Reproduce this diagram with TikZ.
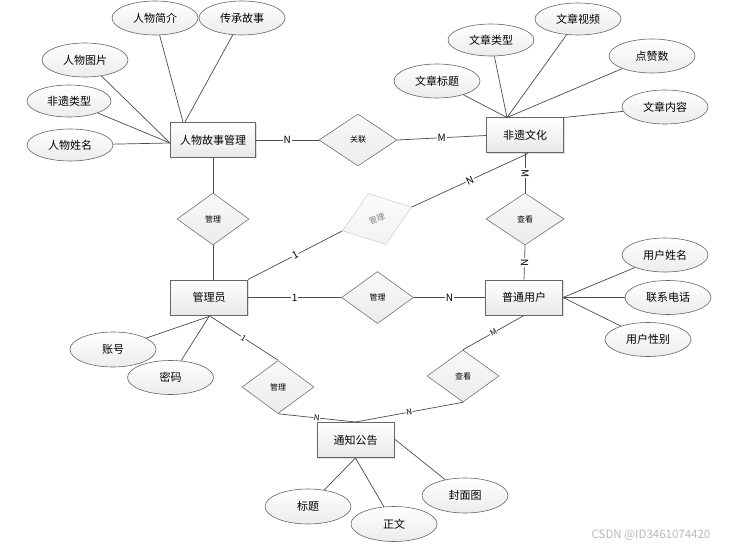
\documentclass[tikz,border=0pt]{standalone}
\usepackage{fontspec}
\setmainfont{Noto Sans CJK SC}
\usetikzlibrary{shapes.geometric,shadows}

\begin{document}
\begin{tikzpicture}[x=1pt,y=-1pt]
    \tikzstyle{every node}=[font={\fontsize{11}{13}\selectfont}]
    \tikzstyle{entity}=[draw=black!60, line width=1pt, rectangle, top color=white, bottom color=gray!18,
        minimum width=77pt, minimum height=35pt, inner sep=0pt,
        drop shadow={shadow xshift=1pt, shadow yshift=-1pt, opacity=0.25},
        font={\fontsize{11}{13}\selectfont}]
    \tikzstyle{attr}=[draw=black!60, line width=0.6pt, ellipse, top color=white, bottom color=gray!15,
        minimum width=86pt, minimum height=34pt, inner sep=0pt]
    \tikzstyle{rel}=[draw=black!55, line width=0.6pt, diamond, top color=gray!5, bottom color=gray!15,
        minimum width=72pt, minimum height=52pt, inner sep=0pt, font={\fontsize{8}{9}\selectfont}]
    \tikzstyle{link}=[draw=black!70, line width=0.7pt]
    \tikzstyle{card}=[fill=white, inner sep=1pt, font={\fontsize{10}{11}\selectfont}]
    \tikzstyle{smallcard}=[fill=white, inner sep=0.5pt, font={\fontsize{8}{9}\selectfont}]

    \useasboundingbox[fill=white] (0,0) rectangle (736,548);

    % entities
    \node[entity, minimum width=85pt] (story) at (213,140) {人物故事管理};
    \node[entity] (heritage) at (525,135.5) {非遗文化};
    \node[entity] (admin) at (209,297.5) {管理员};
    \node[entity] (user) at (524,297.5) {普通用户};
    \node[entity] (notice) at (355.5,440) {通知公告};

    % relations
    \node[rel, minimum width=78pt] (relate) at (358,140) {关联};
    \node[rel] (manageA) at (213,219) {管理};
    \node[rel, minimum width=78pt] (viewA) at (525,219) {查看};
    \node[rel] (manageB) at (377.5,297.5) {管理};
    \node[rel, minimum height=53pt] (manageC) at (278,387) {管理};
    \node[rel] (viewB) at (463,376) {查看};
    \node[rel, rotate=19, draw=gray!35, top color=gray!3, bottom color=gray!10, text=gray,
        minimum width=73pt, minimum height=54pt] (manageD) at (377,219) {管理};

    % attributes
    \node[attr] (storyIntro) at (155,18) {人物简介};
    \node[attr] (storyTale) at (242,18) {传承故事};
    \node[attr] (storyPic) at (85,60) {人物图片};
    \node[attr, minimum width=84pt, minimum height=32pt] (storyType) at (69,101) {非遗类型};
    \node[attr, minimum height=32pt] (storyName) at (70,145) {人物姓名};

    \node[attr] (artTitle) at (437,81) {文章标题};
    \node[attr, minimum height=32pt] (artType) at (491,40) {文章类型};
    \node[attr, minimum height=32pt] (artVideo) at (578,19) {文章视频};
    \node[attr] (artLikes) at (652,56) {点赞数};
    \node[attr] (artText) at (665,107) {文章内容};

    \node[attr] (userName) at (665,255) {用户姓名};
    \node[attr] (userPhone) at (668,297.5) {联系电话};
    \node[attr] (userSex) at (648,339.5) {用户性别};

    \node[attr, minimum height=35pt] (adminAcc) at (113,349.5) {账号};
    \node[attr] (adminPwd) at (170.5,377.5) {密码};

    \node[attr, minimum height=35pt] (noticeTitle) at (308,506.5) {标题};
    \node[attr, minimum height=35pt] (noticeBody) at (394,524) {正文};
    \node[attr, minimum height=35pt] (noticeCover) at (465,495.5) {封面图};

    % attribute lines
    \draw[link] (storyIntro) -- ([xshift=13pt]story.north west);
    \draw[link] (storyTale) -- ([xshift=15pt]story.north west);
    \draw[link] (storyPic) -- ([yshift=-3pt]story.west);
    \draw[link] (storyType) -- ([yshift=-3pt]story.west);
    \draw[link] (storyName) -- ([yshift=-3pt]story.west);

    \draw[link] (artTitle) -- ([xshift=21pt]heritage.north west);
    \draw[link] (artType) -- ([xshift=21pt]heritage.north west);
    \draw[link] (artVideo) -- ([xshift=21pt]heritage.north west);
    \draw[link] (artLikes) -- ([xshift=21pt]heritage.north west);
    \draw[link] (artText) -- (heritage.north east);

    \draw[link] (userName) -- (user.east);
    \draw[link] (userPhone) -- (user.east);
    \draw[link] (userSex) -- (user.east);

    \draw[link] (adminAcc) -- ([yshift=-1pt]admin.south);
    \draw[link] (adminPwd) -- ([yshift=-1pt]admin.south);

    \draw[link] (noticeTitle) -- (notice.south);
    \draw[link] (noticeBody) -- (notice.south);
    \draw[link] (noticeCover) -- ([yshift=1pt]notice.east);

    % relation lines
    \draw[link] (story.east) -- node[card] {N} (relate.west);
    \draw[link] (relate.east) -- node[card] {M} (heritage.west);
    \draw[link] (story.south) -- (manageA.north);
    \draw[link] (manageA.south) -- (manageA.south |- admin.north);
    \draw[link] (admin.north east) -- node[card, sloped] {1} (manageD.west);
    \draw[link] (manageD.east) -- node[card, sloped] {N} ([xshift=3pt]heritage.south);
    \draw[link] (heritage.south) -- node[card, sloped] {M} (viewA.north);
    \draw[link] (viewA.south) -- node[card, sloped] {N} (user.north);
    \draw[link] (admin.east) -- node[card] {1} (manageB.west);
    \draw[link] (manageB.east) -- node[card] {N} (user.west);
    \draw[link] (admin.south) -- node[smallcard, sloped] {\textit{1}} (manageC.north);
    \draw[link] (manageC.south) -- node[smallcard, sloped] {N} (notice.north);
    \draw[link] (user.south) -- node[smallcard, sloped] {M} (viewB.north);
    \draw[link] (viewB.south) -- node[smallcard, sloped] {N} (notice.north);

    \node[text=gray!55, font={\fontsize{11.5}{13}\selectfont}] (mark) at (651,535) {CSDN @ID3461074420};
\end{tikzpicture}
\end{document}
